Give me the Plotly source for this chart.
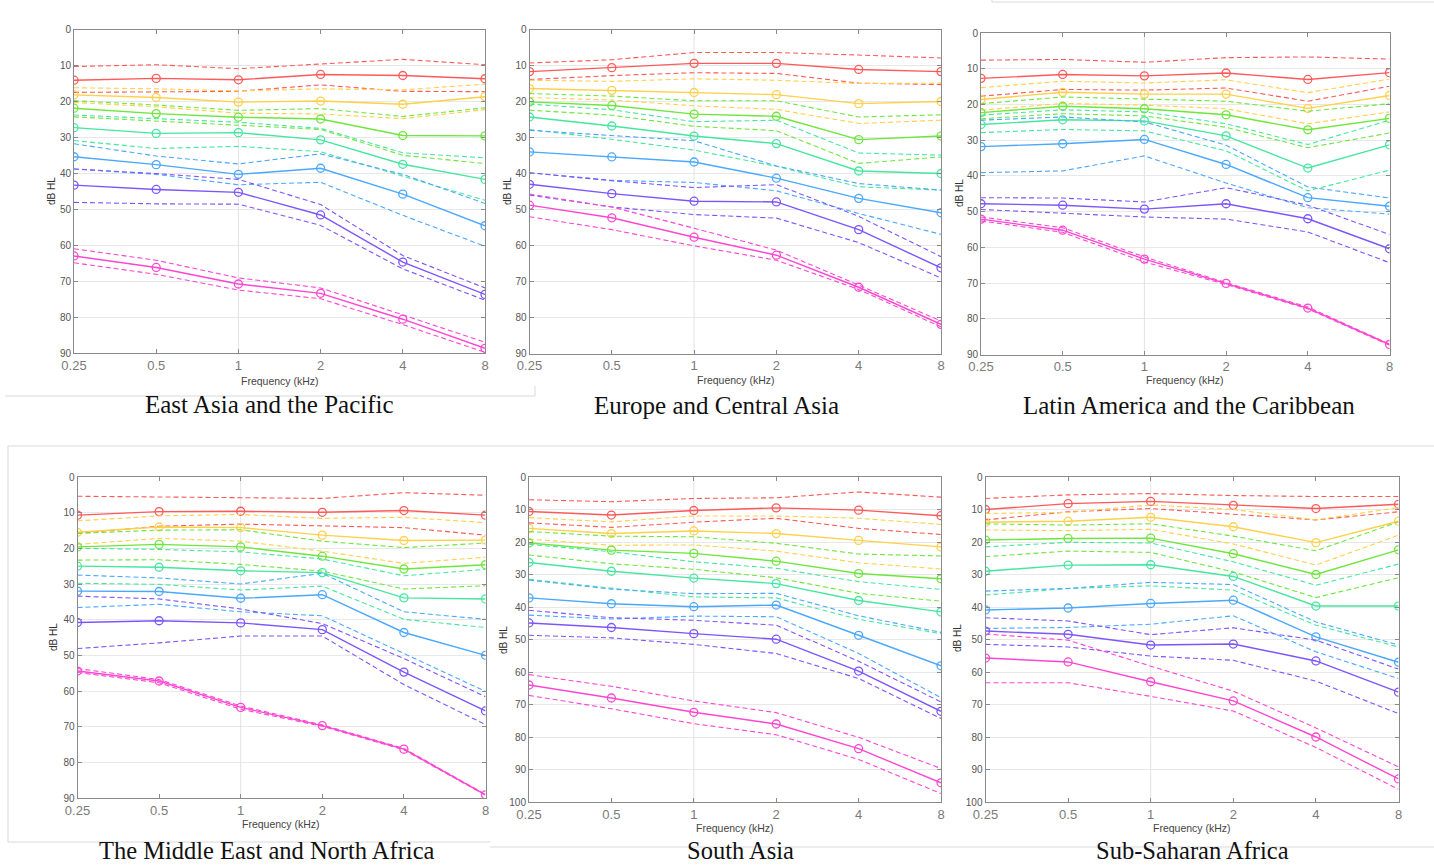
import math
import plotly.graph_objects as go

FREQS = [0.25, 0.5, 1, 2, 4, 8]
FREQ_LABELS = ["0.25", "0.5", "1", "2", "4", "8"]
GROUP_COLORS = ['#ff5a5a', '#ffd04a', '#6ee63c', '#46e6a0', '#4aa8ff', '#7d55ff', '#ff46d2']

REGIONS = ["East Asia and the Pacific", "Europe and Central Asia", "Latin America and the Caribbean",
           "The Middle East and North Africa", "South Asia", "Sub-Saharan Africa"]
YMAX = [90, 90, 90, 90, 100, 100]

# Each list: 7 groups (red, yellow, green, aqua, blue, purple, magenta) x 6 frequencies
EAP_MED = [[14.1, 13.6, 14.0, 12.5, 12.8, 13.7], [18.2, 18.9, 20.2, 19.9, 20.8, 18.7],
           [21.9, 23.4, 24.4, 24.9, 29.5, 29.6], [27.3, 28.9, 28.7, 30.7, 37.5, 41.7],
           [35.4, 37.6, 40.3, 38.6, 45.8, 54.6], [43.3, 44.5, 45.3, 51.6, 64.7, 73.7],
           [63.0, 66.2, 70.8, 73.4, 80.6, 88.7]]
EAP_UP = [[10.3, 9.8, 10.9, 9.6, 8.3, 9.8], [16.2, 16.5, 17.1, 16.5, 16.8, 15.2],
          [19.8, 21.0, 22.5, 22.0, 24.2, 21.8], [23.8, 24.8, 25.8, 27.5, 34.3, 35.7],
          [31.8, 35.2, 37.4, 34.6, 40.3, 48.4], [38.8, 40.1, 41.7, 48.7, 62.9, 71.9],
          [61.0, 64.2, 69.1, 71.9, 79.4, 87.0]]
EAP_LO = [[17.5, 17.3, 17.2, 15.4, 17.2, 17.3], [20.3, 21.5, 23.3, 23.5, 24.8, 22.3],
          [24.3, 25.5, 26.7, 27.8, 35.0, 37.3], [30.9, 33.1, 32.5, 34.0, 40.8, 47.5],
          [38.8, 40.3, 43.2, 42.5, 51.7, 60.3], [48.1, 48.5, 48.6, 54.5, 66.6, 75.3],
          [64.9, 68.1, 72.5, 74.9, 82.1, 89.8]]

ECA_MED = [[11.7, 10.6, 9.4, 9.4, 11.1, 11.7], [16.4, 16.9, 17.5, 18.1, 20.6, 20.0],
           [20.1, 21.1, 23.5, 24.1, 30.6, 29.6], [24.3, 26.8, 29.6, 31.7, 39.3, 40.0],
           [34.0, 35.4, 36.8, 41.3, 46.9, 50.9], [43.0, 45.6, 47.7, 47.9, 55.6, 66.2],
           [48.8, 52.3, 57.7, 62.7, 71.6, 81.9]]
ECA_UP = [[9.3, 8.4, 6.4, 6.4, 7.1, 7.9], [14.1, 14.4, 13.7, 14.1, 15.0, 14.9],
          [17.8, 18.5, 19.8, 19.8, 24.3, 23.7], [20.7, 22.3, 25.6, 25.2, 34.3, 34.9],
          [28.0, 29.4, 30.9, 37.9, 42.8, 44.6], [39.8, 42.0, 43.9, 43.1, 51.9, 63.1],
          [45.7, 49.3, 55.2, 61.3, 71.0, 81.0]]
ECA_LO = [[13.9, 12.8, 12.0, 12.2, 14.9, 15.3], [18.9, 19.6, 21.2, 22.2, 26.1, 25.2],
          [22.4, 23.8, 26.9, 28.1, 37.2, 35.4], [27.8, 30.5, 33.5, 38.0, 43.7, 44.6],
          [39.8, 41.9, 42.5, 44.8, 51.1, 56.9], [46.0, 49.3, 51.4, 52.4, 59.2, 69.0],
          [52.0, 55.6, 60.1, 64.1, 72.2, 82.6]]

LAC_MED = [[12.7, 11.6, 12.0, 11.2, 13.0, 11.1], [18.6, 16.6, 17.1, 17.1, 21.1, 17.5],
           [22.3, 20.5, 21.2, 22.9, 27.1, 23.9], [25.6, 24.3, 24.6, 28.8, 37.8, 31.3],
           [31.8, 31.0, 29.8, 36.8, 46.1, 48.5], [47.8, 48.2, 49.3, 47.8, 52.0, 60.4],
           [52.1, 55.2, 63.3, 70.1, 77.0, 87.2]]
LAC_UP = [[7.6, 7.4, 8.2, 6.9, 6.7, 7.3], [15.3, 13.5, 14.0, 13.1, 16.7, 12.9],
          [19.8, 17.9, 18.5, 19.1, 21.9, 19.8], [23.0, 21.5, 22.1, 25.4, 31.2, 24.4],
          [24.4, 23.5, 24.9, 31.4, 43.1, 46.2], [46.1, 46.2, 47.3, 43.3, 48.2, 56.4],
          [51.5, 54.5, 62.7, 69.9, 76.7, 87.1]]
LAC_LO = [[17.7, 15.8, 16.0, 15.4, 19.1, 14.9], [21.6, 19.7, 20.2, 21.2, 25.4, 22.1],
          [24.0, 22.6, 23.2, 26.4, 32.1, 28.0], [27.9, 27.0, 27.4, 33.0, 44.2, 38.4],
          [39.1, 38.6, 34.4, 42.0, 48.9, 50.7], [49.4, 50.4, 51.5, 52.1, 55.7, 64.3],
          [52.6, 55.8, 64.1, 70.4, 77.2, 87.4]]

MENA_MED = [[10.7, 9.7, 9.6, 9.9, 9.4, 10.7], [15.5, 14.0, 14.2, 16.3, 17.8, 17.7],
            [19.6, 18.9, 19.6, 22.2, 25.8, 24.6], [25.0, 25.3, 26.3, 26.8, 33.9, 34.2],
            [32.0, 32.1, 34.0, 33.0, 43.6, 50.0], [40.8, 40.3, 40.9, 42.8, 54.7, 65.6],
            [54.4, 57.2, 64.6, 69.7, 76.3, 89.1]]
MENA_UP = [[5.4, 5.7, 5.8, 6.0, 4.4, 5.1], [12.3, 10.9, 10.5, 11.6, 11.3, 12.8],
           [15.8, 14.9, 14.8, 18.0, 19.8, 18.5], [20.0, 20.3, 21.0, 23.0, 27.7, 25.9],
           [27.5, 28.3, 30.0, 27.0, 37.8, 39.9], [33.4, 34.2, 37.0, 41.1, 50.9, 61.6],
           [53.7, 56.8, 64.2, 69.5, 76.1, 89.0]]
MENA_LO = [[15.8, 13.8, 13.2, 13.8, 14.2, 16.3], [18.9, 17.2, 18.0, 20.8, 24.2, 22.5],
           [23.3, 23.2, 24.5, 26.4, 31.4, 30.5], [29.8, 30.1, 31.7, 30.6, 39.9, 42.2],
           [36.6, 35.7, 37.8, 38.9, 49.5, 60.1], [48.1, 46.5, 44.6, 44.6, 58.2, 69.4],
           [54.8, 57.7, 65.1, 69.9, 76.5, 89.2]]

SA_MED = [[10.6, 11.7, 10.3, 9.5, 10.2, 11.9], [15.8, 17.4, 16.6, 17.4, 19.5, 21.5],
          [20.3, 22.5, 23.5, 25.9, 29.7, 31.3], [26.3, 29.0, 31.1, 32.8, 38.0, 41.5],
          [37.2, 39.0, 39.9, 39.4, 48.7, 58.1], [44.9, 46.3, 48.2, 49.9, 59.7, 72.1],
          [64.0, 68.0, 72.4, 76.0, 83.6, 94.1]]
SA_UP = [[7.0, 7.6, 6.6, 6.4, 4.6, 6.2], [12.5, 13.8, 12.0, 12.0, 12.7, 14.6],
         [16.8, 18.2, 18.4, 20.4, 23.7, 24.3], [20.7, 23.0, 26.1, 28.1, 32.2, 34.6],
         [31.7, 34.5, 35.9, 35.8, 42.7, 47.8], [41.0, 43.3, 44.1, 45.6, 56.7, 69.2],
         [60.8, 64.4, 68.9, 72.5, 80.1, 89.7]]
SA_LO = [[14.1, 15.5, 13.9, 12.7, 15.8, 17.7], [19.1, 21.0, 20.9, 22.8, 26.4, 28.3],
         [24.0, 26.7, 28.4, 31.0, 35.8, 38.2], [31.5, 34.3, 36.9, 37.2, 43.8, 48.2],
         [42.5, 43.7, 42.8, 43.0, 54.3, 67.9], [48.7, 49.5, 51.5, 54.3, 62.0, 74.3],
         [67.2, 71.3, 75.9, 79.3, 86.9, 97.4]]

SSA_MED = [[10.0, 8.2, 7.5, 8.7, 9.7, 8.4], [13.9, 13.6, 12.4, 15.3, 20.2, 13.6],
           [19.4, 18.9, 18.8, 23.6, 30.0, 22.4], [29.0, 27.1, 27.0, 30.6, 39.7, 39.7],
           [40.9, 40.3, 38.9, 37.9, 49.2, 57.0], [47.4, 48.4, 51.7, 51.4, 56.6, 66.2],
           [55.7, 56.9, 63.0, 68.9, 80.0, 92.9]]
SSA_UP = [[6.6, 5.5, 5.1, 5.7, 6.0, 6.0], [11.2, 10.9, 8.6, 10.0, 13.2, 9.4],
          [14.4, 14.8, 14.4, 18.2, 22.7, 13.8], [21.5, 20.1, 20.3, 26.1, 33.3, 26.8],
          [35.1, 34.3, 32.4, 33.1, 44.6, 51.7], [43.3, 44.3, 48.5, 46.4, 50.2, 59.1],
          [48.3, 50.2, 58.2, 65.9, 77.2, 89.2]]
SSA_LO = [[13.2, 10.7, 9.7, 11.5, 13.2, 10.7], [16.3, 16.5, 16.1, 20.6, 27.1, 17.9],
          [24.5, 22.8, 23.2, 29.2, 37.1, 31.0], [36.3, 34.3, 33.5, 34.8, 45.6, 52.3],
          [46.6, 46.3, 45.3, 42.7, 53.8, 62.0], [51.5, 52.3, 55.1, 56.4, 62.8, 72.8],
          [63.3, 63.3, 67.5, 72.0, 83.2, 96.1]]

PANEL_DATA = [(EAP_MED, EAP_UP, EAP_LO), (ECA_MED, ECA_UP, ECA_LO), (LAC_MED, LAC_UP, LAC_LO),
              (MENA_MED, MENA_UP, MENA_LO), (SA_MED, SA_UP, SA_LO), (SSA_MED, SSA_UP, SSA_LO)]

# ---------------- layout (pixel geometry) ----------------
W, H = 1434, 866
# plot boxes: x0, x1, y0(top), y1(bottom) in pixels
BOXES = [(74, 485, 29.5, 353), (529.5, 941, 29.5, 353.5), (981, 1389.5, 33, 354.5),
         (77.5, 485.5, 477, 798), (529, 941, 477, 802), (985.5, 1398.5, 477, 802)]
YLABEL_POS = [(51, 191), (507, 191), (959, 193), (53, 637), (503, 640), (957, 638)]
XLABEL_POS = [(280, 381), (736, 380), (1185, 380), (281, 824), (735, 828), (1192, 828)]
# caption anchor: (x center, y, vertical anchor)
CAPTION_POS = [(269, 404, 'middle'), (716, 405, 'middle'), (1189, 405, 'middle'),
               (267, 865, 'bottom'), (740, 865, 'bottom'), (1192, 865, 'bottom')]


def px(x):
    return x / W


def py(y):
    return 1 - y / H


fig = go.Figure()
layout = dict(width=W, height=H, margin=dict(l=0, r=0, t=0, b=0, pad=0), paper_bgcolor='white',
              plot_bgcolor='white', showlegend=False, font=dict(family='Arial, Liberation Sans'))
annotations = []
shapes = []
FRAME = '#8a8a8a'

for i, (box, data) in enumerate(zip(BOXES, PANEL_DATA)):
    n = '' if i == 0 else str(i + 1)
    xa, ya = 'x' + n, 'y' + n
    x0, x1, y0, y1 = box
    ymax = YMAX[i]
    layout['xaxis' + n] = dict(domain=[px(x0), px(x1)], anchor=ya, type='log', automargin=False,
                               range=[math.log10(0.25), math.log10(8)],
                               tickvals=FREQS, ticktext=FREQ_LABELS, showgrid=False, zeroline=False,
                               showline=True, linecolor=FRAME, linewidth=1, mirror='ticks',
                               ticks='inside', ticklen=4, tickcolor=FRAME,
                               tickfont=dict(size=13, color='#7a7a7a'))
    layout['yaxis' + n] = dict(domain=[py(y1), py(y0)], anchor=xa, range=[ymax, 0], automargin=False,
                               tickvals=list(range(0, ymax + 1, 10)), showgrid=True,
                               gridcolor='#e8e8e8', gridwidth=1, zeroline=False,
                               showline=True, linecolor=FRAME, linewidth=1, mirror='ticks',
                               ticks='inside', ticklen=4, tickcolor=FRAME,
                               tickfont=dict(size=10, color='#555555'))
    # decade grid line at 1 kHz (MATLAB log-axis major grid)
    fig.add_trace(go.Scatter(x=[1, 1], y=[0, ymax], mode='lines', xaxis=xa, yaxis=ya,
                             line=dict(color='#e2e2e2', width=1), hoverinfo='skip'))
    med, up, lo = data
    for g in range(7):
        c = GROUP_COLORS[g]
        for series in (up[g], lo[g]):
            fig.add_trace(go.Scatter(x=FREQS, y=series, mode='lines', xaxis=xa, yaxis=ya,
                                     line=dict(color=c, width=1.1, dash='5px,3px')))
        fig.add_trace(go.Scatter(x=FREQS, y=med[g], mode='lines+markers', xaxis=xa, yaxis=ya,
                                 line=dict(color=c, width=1.4),
                                 marker=dict(symbol='circle-open', size=8, color=c,
                                             line=dict(width=1.3, color=c))))
    lx, ly = YLABEL_POS[i]
    annotations.append(dict(x=px(lx), y=py(ly), xref='paper', yref='paper', text='dB HL',
                            textangle=-90, showarrow=False, font=dict(size=10, color='#333333'),
                            xanchor='center', yanchor='middle'))
    fx, fy = XLABEL_POS[i]
    annotations.append(dict(x=px(fx), y=py(fy), xref='paper', yref='paper', text='Frequency (kHz)',
                            showarrow=False, font=dict(size=10.5, color='#444444'),
                            xanchor='center', yanchor='middle'))
    cx, cy, anc = CAPTION_POS[i]
    annotations.append(dict(x=px(cx), y=py(cy), xref='paper', yref='paper', text=REGIONS[i],
                            showarrow=False, borderpad=0,
                            font=dict(size=25 if anc == 'middle' else 24.5, color='#111111',
                                      family='Liberation Serif, DejaVu Serif'),
                            xanchor='center', yanchor=anc))

# faint borders of the composed image pieces
BORDER = '#d9d9d9'
for (ax0, ay0, ax1, ay1) in [(5, 396, 535, 396), (535, 386, 535, 396), (992, 2, 1434, 2),
                             (992, 0, 992, 2), (8, 446, 1434, 446), (8, 446, 8, 842),
                             (8, 842, 490, 842), (490, 847, 1434, 847)]:
    shapes.append(dict(type='line', xref='paper', yref='paper', x0=px(ax0), y0=py(ay0),
                       x1=px(ax1), y1=py(ay1), line=dict(color=BORDER, width=1)))

layout['annotations'] = annotations
layout['shapes'] = shapes
fig.update_layout(**layout)
fig.write_html("out.html")
